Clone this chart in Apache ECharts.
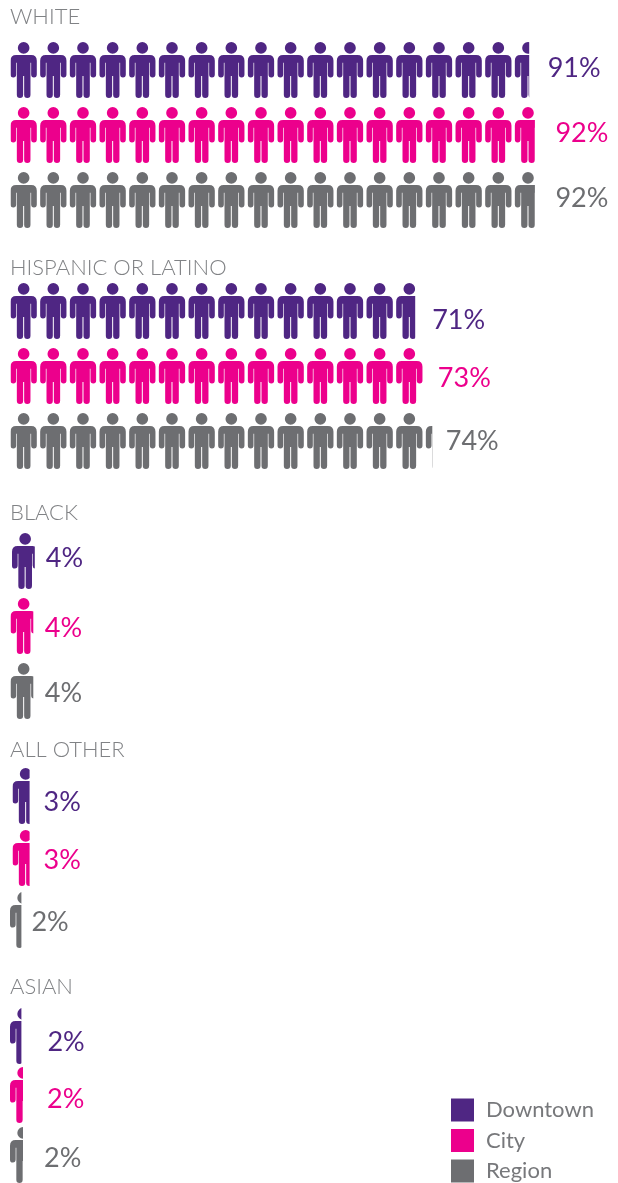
<!DOCTYPE html>
<html>
<head>
<meta charset="utf-8">
<title>Race and ethnicity</title>
<style>
  html, body { margin: 0; padding: 0; background: #fff; }
  #chart { width: 618px; height: 1183px; }
</style>
<script src="https://cdn.jsdelivr.net/npm/echarts@6/dist/echarts.min.js"></script>
</head>
<body>
<div id="chart"></div>
<script>
// values, order follows groups
const groups = ['WHITE', 'HISPANIC OR LATINO', 'BLACK', 'ALL OTHER', 'ASIAN'];
const seriesNames = ['Downtown', 'City', 'Region'];
const downtown = [91, 71, 4, 3, 2];
const city = [92, 72.6, 4, 3, 2.3];
const region = [92, 74, 4, 2, 2.3];

const colors = ['#4f2683', '#ec008c', '#6d6e71'];

// person icon
const person = 'path://M39.5 0A17.5 17.5 0 0 1 39.5 35A17.5 17.5 0 0 1 39.5 0ZM17 39H62Q79 39 79 56V97A8.5 8.5 0 0 1 62 97V62H60V157A9.5 9.5 0 0 1 41 157V101H38V157A9.5 9.5 0 0 1 19 157V62H17V97A8.5 8.5 0 0 1 0 97V56Q0 39 17 39Z';

// layout per group, one entry per row
const titleTops = [6, 257, 502, 739, 976];
const rowTops = [[42, 107, 172], [283, 348, 413], [533, 598, 663], [768, 830, 892], [1008, 1067, 1127]];
const rowLefts = [[10.5, 10.5, 10.5], [10.5, 10.5, 10.5], [12, 10.5, 10.5], [12.5, 12.5, 10], [10, 10, 10]];
const labelDx = [[18.5, 20.5, 20.5], [17, 13.5, 13.5], [11, 11.5, 11.5], [14, 14, 10], [26, 24, 21]];
const labelDy = [[-2, -2, -2], [9, 2, 0], [-3, 2, 2], [6, 2, 2], [6, 4, 3]];

const pxPerPct = 5.7;
const iconW = 26.3;
const iconH = 56;
const axisMax = 100;
const boundingMax = 98.3; // 19 figures fit in here

const allValues = [downtown, city, region];
const grid = [], xAxis = [], yAxis = [], series = [];

groups.forEach(function (name, g) {
  seriesNames.forEach(function (sName, s) {
    const idx = grid.length;
    grid.push({
      left: rowLefts[g][s],
      top: rowTops[g][s],
      width: axisMax * pxPerPct,
      height: iconH
    });
    xAxis.push({ gridIndex: idx, type: 'value', min: 0, max: axisMax, show: false });
    yAxis.push({ gridIndex: idx, type: 'category', data: [name], show: false });
    series.push({
      name: sName,
      type: 'pictorialBar',
      xAxisIndex: idx,
      yAxisIndex: idx,
      data: [allValues[s][g]],
      symbol: person,
      symbolSize: [iconW, iconH],
      symbolRepeat: 'fixed',
      symbolClip: true,
      symbolPosition: 'start',
      symbolBoundingData: boundingMax,
      symbolMargin: 1.7,
      silent: true,
      itemStyle: { color: colors[s] }
    });
    // the label hangs on a see-through bar, pictorialBar would put it at the bounding end
    series.push({
      type: 'bar',
      xAxisIndex: idx,
      yAxisIndex: idx,
      data: [allValues[s][g]],
      barWidth: iconH,
      silent: true,
      itemStyle: { color: 'transparent' },
      label: {
        show: true,
        position: 'right',
        distance: 0,
        offset: [labelDx[g][s], labelDy[g][s]],
        formatter: function (p) { return Math.round(p.value) + '%'; },
        color: colors[s],
        fontFamily: 'Lato',
        fontWeight: 400,
        fontSize: 27
      }
    });
  });
});

const chart = echarts.init(document.getElementById('chart'));
chart.setOption({
  backgroundColor: '#fff',
  animation: false,
  title: groups.map(function (name, g) {
    return {
      text: name,
      left: 10,
      top: titleTops[g],
      padding: 0,
      textStyle: { color: '#808285', fontFamily: 'Lato', fontWeight: 300, fontSize: 22 }
    };
  }),
  legend: {
    data: seriesNames.map(function (n) { return { name: n, icon: 'rect' }; }),
    orient: 'vertical',
    left: 451,
    top: 1098.5,
    padding: 0,
    itemWidth: 23,
    itemHeight: 23,
    itemGap: 7.5,
    selectedMode: false,
    textStyle: { color: '#77787b', fontFamily: 'Lato', fontSize: 22, padding: [0, 0, 0, 7] }
  },
  grid: grid,
  xAxis: xAxis,
  yAxis: yAxis,
  series: series
});
</script>
</body>
</html>
